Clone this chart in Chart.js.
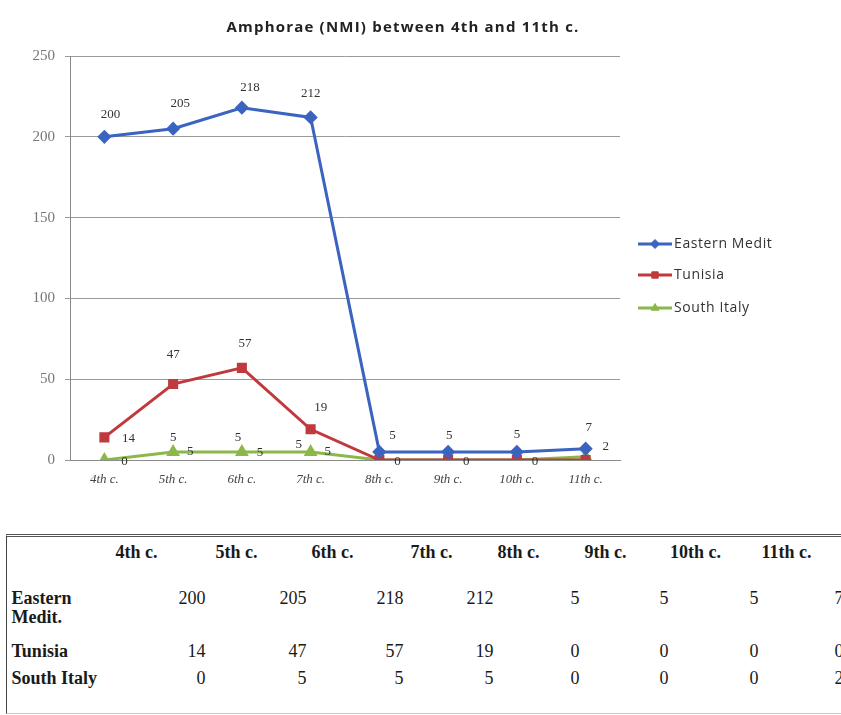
<!DOCTYPE html>
<html><head><meta charset="utf-8">
<script src="https://cdn.jsdelivr.net/npm/chart.js@4.4.0/dist/chart.umd.min.js"></script>
<style>
html,body{margin:0;padding:0;background:#fff;overflow:hidden;width:841px;height:715px;}
#wrap{position:absolute;left:0;top:0;width:841px;height:500px;}
#tbl{position:absolute;left:6px;top:534px;width:900px;height:176px;border-left:1.5px solid #444;border-top:3px double #555;border-bottom:1px solid #c8c8c8;font-family:"Liberation Serif","Times New Roman",serif;color:#1a1a1a;font-size:18px;}
.c{position:absolute;white-space:nowrap;line-height:19px;}
.b{font-weight:bold;}
</style></head><body>
<div id="wrap"><canvas id="c" width="841" height="500"></canvas></div>
<div id="tbl"></div>
<script>
// ---- data ----
const categories = ["4th c.","5th c.","6th c.","7th c.","8th c.","9th c.","10th c.","11th c."];
const seriesNames = ["Eastern Medit","Tunisia","South Italy"];
const tableRowLabels = ["Eastern<br>Medit.","Tunisia","South Italy"];
const easternMedit = [200,205,218,212,5,5,5,7];
const tunisia = [14,47,57,19,0,0,0,0];
const southItaly = [0,5,5,5,0,0,0,2];
const yTicks = [0,50,100,150,200,250];
const chartTitle = "Amphorae (NMI) between 4th and 11th c.";

// ---- styling ----
const colors = ["#3b63c0","#c0393c","#8cb84a"];
const pointStyles = ["rectRot","rect","triangle"];
const labelOffsets = [
  [[6,-22],[7,-25],[8,-20],[0,-24],[13,-16],[1,-16],[0,-17],[3,-21]],
  [[24,1],[0,-29],[3,-24],[10,-22],[18,2],[18,2],[18,2],null],
  [[20,2],[17,0],[18,1],[17,0],null,null,null,[20,-10]]
];
const extraLabelOffsets = [null,null,[null,[0,-14],[-4,-14],[-12,-7],null,null,null,null]];
const legendY = [244,275,308];

const seriesData = [easternMedit, tunisia, southItaly];

const labelPlugin = {
  id:'labels',
  afterDatasetsDraw(chart){
    const ctx = chart.ctx;
    ctx.save();
    ctx.font = '13px "Liberation Serif", serif';
    ctx.fillStyle = '#333';
    ctx.textAlign = 'center';
    ctx.textBaseline = 'middle';
    chart.data.datasets.forEach((ds,di)=>{
      const meta = chart.getDatasetMeta(di);
      meta.data.forEach((pt,i)=>{
        const o = labelOffsets[di][i];
        if(o) ctx.fillText(String(ds.data[i]), pt.x+o[0], pt.y+o[1]);
        const e = extraLabelOffsets[di] && extraLabelOffsets[di][i];
        if(e) ctx.fillText(String(ds.data[i]), pt.x+e[0], pt.y+e[1]);
      });
    });
    ctx.restore();
  },
  afterDraw(chart){
    const ctx = chart.ctx;
    ctx.save();
    // title
    ctx.font = 'bold 15px "Open Sans", sans-serif';
    ctx.letterSpacing = '1.2px';
    ctx.fillStyle = '#222';
    ctx.textAlign = 'center';
    ctx.textBaseline = 'middle';
    ctx.fillText(chartTitle, 403, 28);
    // legend
    ctx.letterSpacing = '0.6px';
    chart.data.datasets.forEach((ds,di)=>{
      const y = legendY[di];
      ctx.strokeStyle = colors[di];
      ctx.lineWidth = 3;
      ctx.beginPath(); ctx.moveTo(638,y); ctx.lineTo(672,y); ctx.stroke();
      ctx.fillStyle = colors[di];
      ctx.lineWidth = 1;
      Chart.helpers.drawPoint(ctx,{pointStyle:pointStyles[di],radius:4.5,rotation:0,borderWidth:1},655,y);
      ctx.fillStyle = '#333';
      ctx.font = '14px "Open Sans", sans-serif';
      ctx.textAlign = 'left';
      ctx.fillText(ds.label, 674, y);
    });
    ctx.restore();
  }
};

new Chart(document.getElementById('c'),{
  type:'line',
  data:{
    labels:categories,
    datasets:seriesNames.map((n,i)=>({
      label:n, data:seriesData[i],
      borderColor:colors[i], backgroundColor:colors[i],
      borderWidth:3, pointStyle:pointStyles[i], pointRadius:5,
      pointBorderColor:colors[i], pointBackgroundColor:colors[i],
      tension:0, fill:false
    }))
  },
  options:{
    responsive:false, devicePixelRatio:1, animation:false,
    layout:{padding:{top:56,right:221,bottom:12,left:0}},
    plugins:{legend:{display:false},title:{display:false},tooltip:{enabled:false}},
    scales:{
      x:{
        offset:true,
        grid:{display:false},
        border:{display:true,color:'#8a8a8a',width:1},
        ticks:{font:{family:'"Liberation Serif", serif',size:13,style:'italic'},color:'#444',padding:4,maxRotation:0,autoSkip:false},
        afterFit(s){s.height=28;}
      },
      y:{
        min:0,max:250,
        afterBuildTicks(s){s.ticks = yTicks.map(v=>({value:v}));},
        grid:{color:'#9a9a9a',lineWidth:1,tickLength:5,drawTicks:true},
        border:{display:true,color:'#8a8a8a',width:1},
        ticks:{font:{family:'"Liberation Serif", serif',size:15},color:'#777',padding:10},
        afterFit(s){s.width=70;}
      }
    }
  },
  plugins:[labelPlugin]
});

// ---- table ----
const tbl = document.getElementById('tbl');
const ox = 7.5, oy = 537;
const headerCenters = [137,237,333,432,519,606,696,787];
const valueRight = [206,307,404,494,580,669,759,844];
const rowCenters = [598,651,678];
function add(html, cls, left, top, extra){
  const d = document.createElement('div');
  d.className = 'c '+cls;
  d.innerHTML = html;
  d.style.left = (left-ox)+'px';
  d.style.top = (top-oy)+'px';
  if(extra) Object.assign(d.style, extra);
  tbl.appendChild(d);
  return d;
}
categories.forEach((c,i)=>{
  add(c,'b',headerCenters[i]-50,552-9.5,{width:'100px',textAlign:'center'});
});
tableRowLabels.forEach((r,ri)=>{
  add(r,'b',12,rowCenters[ri]-9.5);
  seriesData[ri].forEach((v,i)=>{
    add(String(v),'',valueRight[i]-60,rowCenters[ri]-9.5,{width:'60px',textAlign:'right'});
  });
});
</script>
</body></html>
